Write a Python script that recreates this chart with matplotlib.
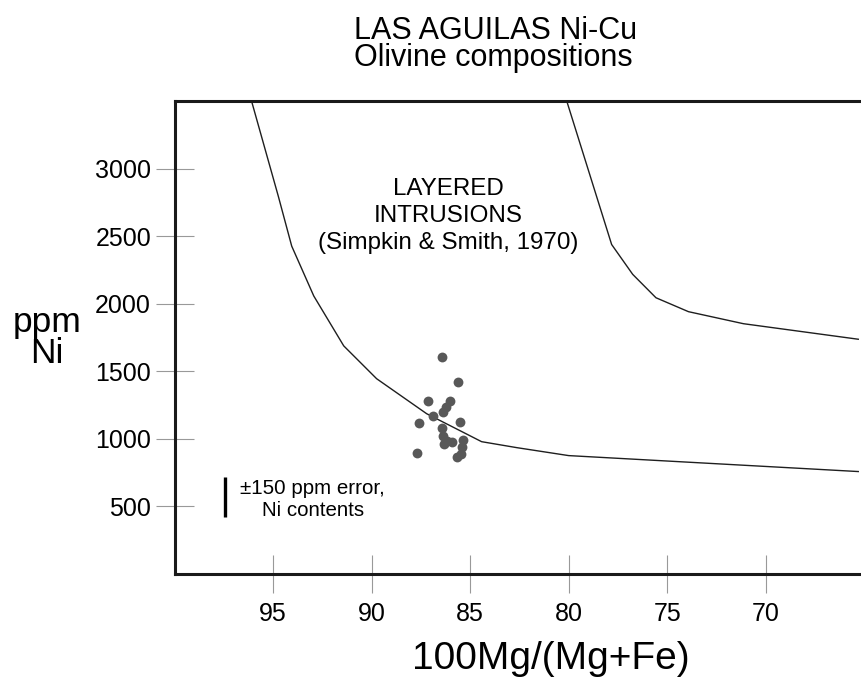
import matplotlib
matplotlib.use("Agg")
import matplotlib.pyplot as plt

plt.rcParams['font.family'] = ['Liberation Sans', 'DejaVu Sans']

# Simpkin & Smith (1970) layered-intrusion field boundaries
lower_fo = [96.1, 94.74, 94.06, 92.94, 91.42, 89.75, 87.21, 84.42, 82.64, 80.0, 65.3]
lower_ni = [3500, 2795, 2426, 2057, 1688, 1445, 1186, 979, 935, 876, 758]
upper_fo = [80.1, 77.82, 76.75, 75.57, 73.92, 71.13, 65.3]
upper_ni = [3500, 2438, 2217, 2044, 1941, 1852, 1737]

# Las Aguilas olivine analyses
olv_fo = [86.45, 85.63, 87.16, 86.03, 86.23, 86.36, 86.87, 87.61, 85.52, 86.45,
          86.36, 86.19, 85.35, 86.31, 85.94, 85.43, 87.72, 85.47, 85.65]
olv_ni = [1609, 1424, 1280, 1280, 1232, 1196, 1171, 1117, 1122, 1080,
          1024, 987, 992, 962, 974, 937, 893, 889, 869]

err_x = 97.45
err_center = 570
err_half = 150

xticks = [95, 90, 85, 80, 75, 70]
yticks = [500, 1000, 1500, 2000, 2500, 3000]

fig = plt.figure(figsize=(8.61, 6.8), dpi=100)
ax = fig.add_axes([0.2029, 0.1559, 0.8008, 0.6956])

ax.plot(lower_fo, lower_ni, color='#1e1e1e', lw=1.0)
ax.plot(upper_fo, upper_ni, color='#1e1e1e', lw=1.0)
ax.scatter(olv_fo, olv_ni, s=50, color='#585858', zorder=3, linewidths=0)

ax.plot([err_x, err_x], [err_center - err_half, err_center + err_half],
        color='black', lw=2.4, solid_capstyle='butt')
ax.text(93.0, 551, '±150 ppm error,\nNi contents', ha='center', va='center',
        fontsize=14.8, linespacing=1.23)
ax.text(86.1, 2647, 'LAYERED\nINTRUSIONS\n(Simpkin & Smith, 1970)',
        ha='center', va='center', fontsize=17.4, linespacing=1.28)

ax.set_xlim(100, 65)
ax.set_ylim(0, 3500)
ax.set_xticks(xticks)
ax.set_yticks(yticks)
ax.tick_params(direction='inout', length=27, width=0.8, color='#999999',
               labelsize=18)
ax.tick_params(axis='x', pad=7)
ax.tick_params(axis='y', pad=3.5)

for side in ['left', 'bottom', 'top']:
    ax.spines[side].set_linewidth(2.2)
    ax.spines[side].set_color('#1a1a1a')
ax.spines['right'].set_visible(False)

fig.text(354 / 861, 1 - 16 / 680, 'LAS AGUILAS Ni-Cu\nOlivine compositions',
         ha='left', va='top', fontsize=22, linespacing=0.88)
fig.text(47 / 861, 1 - 338 / 680, 'ppm\nNi', ha='center', va='center',
         fontsize=25.5, linespacing=0.9)
fig.text(551 / 861, 3 / 680, '100Mg/(Mg+Fe)', ha='center', va='bottom',
         fontsize=28)

fig.savefig('out.png', dpi=100)
